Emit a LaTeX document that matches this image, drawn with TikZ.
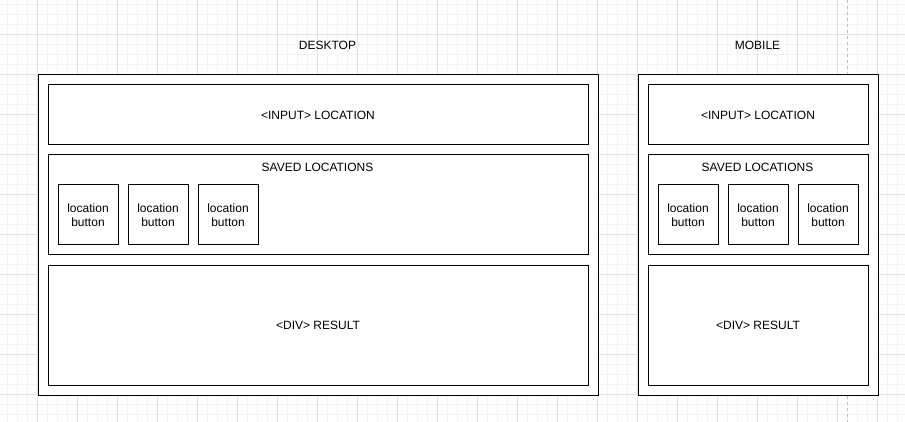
\documentclass[tikz,border=0pt]{standalone}
\usepackage{fontspec}
\setmainfont{Liberation Sans}
\usepackage{tikz}
\definecolor{minorgrid}{HTML}{F3F3F3}
\definecolor{majorgrid}{HTML}{E2E2E2}
\definecolor{pageline}{HTML}{BDBDBD}
\newcommand{\lbtn}{location\\button}
\begin{document}
\begin{tikzpicture}[x=1pt,y=-1pt,
    frame/.style={draw,line width=1pt,fill=white,rectangle,inner sep=0pt,anchor=north west},
    btn/.style={frame,minimum width=60pt,minimum height=60pt},
    txt/.style={font=\fontsize{12}{13.5}\selectfont,align=center,inner sep=0pt}]
    \useasboundingbox (0,0) rectangle (905,422);
    \fill[white] (0,0) rectangle (905,422);

    % grid
    \foreach \gx in {7.5,17.5,...,905} \draw[minorgrid,line width=0.8pt] (\gx,0) -- (\gx,422);
    \foreach \gy in {4.5,14.5,...,422} \draw[minorgrid,line width=0.8pt] (0,\gy) -- (905,\gy);
    \foreach \gx in {37.5,77.5,...,905} \draw[majorgrid,line width=0.8pt] (\gx,0) -- (\gx,422);
    \foreach \gy in {34.5,74.5,...,422} \draw[majorgrid,line width=0.8pt] (0,\gy) -- (905,\gy);
    \coordinate (pt) at (847.5,0);
    \coordinate (pb) at (847.5,422);
    \draw[pageline,line width=0.8pt,dash pattern=on 3pt off 3pt] (pt) -- (pb);

    % desktop
    \node[txt] (dtitle) at (327.5,45) {DESKTOP};
    \node[frame,minimum width=560pt,minimum height=320pt] (dout) at (37.5,74.5) {};
    \node[frame,minimum width=540pt,minimum height=60pt] (dinput) at (47.5,84.5) {};
    \node[txt] at (dinput.center) {<INPUT> LOCATION};
    \node[frame,minimum width=540pt,minimum height=100pt] (dsaved) at (47.5,154.5) {};
    \node[txt] (dsavedt) at (317.5,167.5) {SAVED LOCATIONS};
    \node[btn] (db1) at (57.5,184.5) {};
    \node[btn] (db2) at (127.5,184.5) {};
    \node[btn] (db3) at (197.5,184.5) {};
    \node[txt] at (db1.center) {\lbtn};
    \node[txt] at (db2.center) {\lbtn};
    \node[txt] at (db3.center) {\lbtn};
    \node[frame,minimum width=540pt,minimum height=120pt] (dresult) at (47.5,264.5) {};
    \node[txt] at (dresult.center) {<DIV> RESULT};

    % mobile
    \node[txt] (mtitle) at (757.5,45) {MOBILE};
    \node[frame,minimum width=240pt,minimum height=320pt] (mout) at (637.5,74.5) {};
    \node[frame,minimum width=220pt,minimum height=60pt] (minput) at (647.5,84.5) {};
    \node[txt] at (minput.center) {<INPUT> LOCATION};
    \node[frame,minimum width=220pt,minimum height=100pt] (msaved) at (647.5,154.5) {};
    \node[txt] (msavedt) at (757.5,167.5) {SAVED LOCATIONS};
    \node[btn] (mb1) at (657.5,184.5) {};
    \node[btn] (mb2) at (727.5,184.5) {};
    \node[btn] (mb3) at (797.5,184.5) {};
    \node[txt] at (mb1.center) {\lbtn};
    \node[txt] at (mb2.center) {\lbtn};
    \node[txt] at (mb3.center) {\lbtn};
    \node[frame,minimum width=220pt,minimum height=120pt] (mresult) at (647.5,264.5) {};
    \node[txt] at (mresult.center) {<DIV> RESULT};
\end{tikzpicture}
\end{document}
